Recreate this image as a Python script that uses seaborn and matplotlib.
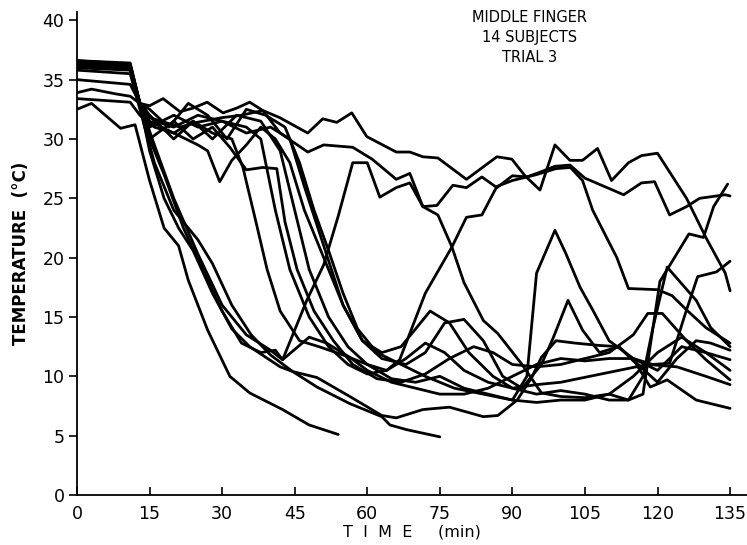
import matplotlib
matplotlib.use("Agg")
import matplotlib.pyplot as plt
import seaborn as sns
import pandas as pd

# ---- data: time (min) / temperature (deg C) breakpoints per subject ----
e1_t = [0, 3, 9, 12, 15, 18, 21, 23, 27, 31.6, 35.7, 42.5, 48, 54]
e1_v = [32.5, 33, 30.9, 31.2, 26.5, 22.5, 21, 18.1, 13.9, 10, 8.6, 7.2, 5.9, 5.1]

e2_t = [0, 11, 13, 15, 18, 21, 24, 28, 32, 35.7, 42, 44.6, 49.6, 56.4, 63, 64.7, 68.2, 75]
e2_v = [36.4, 36.1, 33, 29, 25, 22.5, 20.6, 17, 14, 12.5, 10.8, 10.4, 9.1, 7.7, 6.6, 5.9, 5.5, 4.9]

e3_t = [0, 11, 13, 16, 20, 25, 28, 32, 36, 40, 44.6, 49.6, 56.4, 63, 66, 71.5, 77, 84, 87, 91, 94,
        96, 99, 103, 108, 112, 115.5, 118.5, 122, 128, 135]
e3_v = [35.8, 35.5, 32.5, 28, 24, 21.5, 19.5, 16, 13.5, 11.8, 10.4, 9.9, 8.3, 6.7, 6.5, 7.2, 7.4, 6.6, 6.7, 8, 9.9,
        11.6, 13, 12.8, 12.6, 12.5, 11.1, 9.1, 9.7, 8, 7.3]

h3_t = [0, 11, 13, 16, 20, 25, 30, 35, 40, 42.5, 47.5, 51, 54, 57, 60, 62.6, 66, 68.8, 71.5, 74.6, 77.5,
        80, 84, 87, 92, 96, 100, 105, 110, 115, 120, 125, 130, 135]
h3_v = [36.0, 35.8, 33, 29.5, 25, 20.3, 16, 13.5, 12.2, 11.4, 16.4, 19.4, 23.5, 28, 28, 25.1, 25.9, 26.3, 24.3, 23.6, 20.9,
        17.9, 14.7, 13.6, 11, 8.6, 8.3, 8.2, 8.5, 10, 12, 13.3, 12, 10.5]

r19_t = [0, 11, 13, 15, 18, 22, 26, 30, 34, 38, 41, 42.5, 48, 51.6, 56.4, 60, 65, 70, 75, 80, 85, 90,
         95, 100, 105, 110, 115, 119, 122.5, 126, 128.3, 132.2, 135]
r19_v = [36.6, 36.3, 33, 30, 27, 22.5, 19, 15.5, 12.8, 12, 12.2, 11.4, 13.3, 12.8, 11.6, 10.5, 9.5, 9, 8.5, 8.5, 9, 10,
         11, 11.5, 11.3, 11.5, 11.5, 11, 11.1, 15.6, 18.4, 18.8, 19.7]

h1_t = [0, 3, 8, 11, 13, 15, 17.8, 21.3, 24, 26.9, 30.2, 33, 35.7, 38.4, 41.9, 47.7, 50.8, 53.7, 56.8, 59.9,
        66, 68.8, 71.5, 74.6, 80.5, 86.8, 89.9, 92.6, 95.7, 98.8, 101.9, 104.5, 107.6, 110.5, 114, 116.7,
        120, 126, 130, 134, 135]
h1_v = [33.9, 34.2, 33.8, 33.6, 33, 32.8, 33.4, 32.3, 32.6, 33.1, 32.2, 32.6, 33.1, 32.4, 31.8, 30.5, 31.7, 31.4, 32.2, 30.2,
        28.9, 28.9, 28.5, 28.4, 26.6, 28.5, 28.3, 26.9, 25.7, 29.5, 28.2, 28.2, 29.2, 26.5, 28, 28.6,
        28.8, 25, 21.7, 18.7, 17.2]

h2_t = [0, 11, 13, 15, 21.3, 24.8, 30, 34, 38.4, 42, 47.7, 51, 57, 61, 66, 68.8, 71.5, 74.4, 77.7, 80.5,
        83.7, 86.8, 90, 93, 95.7, 98.8, 101.9, 105, 113, 116.7, 119.4, 122.5, 126, 128.7, 134, 135]
h2_v = [35.0, 34.6, 33, 31.8, 31, 31.4, 31.8, 32, 32.4, 30.5, 28.9, 29.5, 29.3, 28.3, 26.6, 27.1, 24.3, 24.4, 26.1, 25.9,
        26.8, 25.9, 26.9, 26.8, 27.2, 27.7, 27.8, 26.7, 25.3, 26.3, 26.4, 23.6, 24.3, 25, 25.3, 25.2]

r1_t = [0, 11, 13, 16, 20, 25, 30, 35, 38, 41, 44, 48, 52, 56, 60, 64, 66.7, 72, 77.5, 80.5, 83.7, 86.8,
        90, 95, 99, 102, 104.5, 106.6, 111.6, 114, 120, 123, 126, 130, 135]
r1_v = [36.2, 36.0, 33, 31.5, 31, 32, 31.5, 31, 30, 24, 19, 15, 12.5, 11, 10.2, 10.5, 11.4, 17, 20.9, 23.4, 23.6, 26,
        26.5, 27, 27.5, 27.6, 26.5, 24, 20, 17.4, 17.3, 16.8, 15.6, 14.1, 12.8]

p1_t = [0, 11, 13, 15, 20, 24, 28, 33, 38, 42, 45, 48, 52, 56, 60, 65, 70, 75, 80, 85, 90, 93, 95,
        98.8, 101, 104, 106.6, 110, 115, 120, 125, 130, 135]
p1_v = [36.5, 36.2, 33, 32, 30, 31.5, 30, 32, 31.5, 29, 24, 19, 15, 12.5, 11, 9.8, 9.5, 10, 9, 8.5, 8, 10, 18.7,
        22.3, 20.4, 17.5, 15.6, 13, 11.5, 10.5, 12.5, 12, 11.4]

p16_t = [0, 11, 13, 15, 20, 25, 27, 29.5, 32, 35, 38, 41, 44, 47, 51, 55, 59, 63, 68, 72, 76, 80, 84,
         88, 92, 96, 98.5, 101.5, 104.5, 108, 112, 116, 120, 124, 128, 131, 135]
p16_v = [36.3, 36.0, 33, 31.5, 30.5, 29.5, 29, 26.4, 28.2, 29.5, 31, 30, 28, 24, 20, 16, 13, 11.5, 11, 12, 14.5, 14.8, 13,
         10, 9, 11, 13.3, 16.4, 13.9, 12, 12.5, 11, 9.5, 11.5, 13, 12.8, 12.2]

p19_t = [0, 11, 13, 15, 19, 23, 27, 31, 35, 39, 43, 46, 49, 52, 55, 58, 62, 67, 72, 78, 84, 90, 95,
         100, 105, 110, 114, 117, 119, 122, 125, 128, 131, 135]
p19_v = [36.1, 35.9, 33, 32.5, 31, 33, 32, 30, 32.5, 32, 31, 28, 24, 20.6, 17, 14, 12, 11, 10, 9, 8.5, 8, 7.8,
         8, 8, 8.5, 8, 10, 14, 19.2, 17.8, 16.4, 14.1, 12.5]

r26_t = [0, 11, 13, 15, 20, 25, 30, 35, 40, 44, 47, 51, 55, 59, 63, 67, 70, 73, 77, 81, 86, 90, 95,
         100, 105, 110, 114, 117, 120.5, 126.5, 129.5, 131.6, 134.5]
r26_v = [36.4, 36.2, 33, 31, 32, 31, 31.5, 30.5, 31, 30, 26, 21, 16, 13, 12, 12.5, 14, 15.5, 14.5, 12, 10, 9, 8.5,
         8.8, 8.5, 8, 8, 8.5, 18, 22, 21.7, 24.3, 26.2]

l97_t = [0, 11, 13, 15, 20, 24, 28, 31.6, 35, 38.4, 41.3, 43, 45.5, 49, 53, 57, 62, 67, 72, 77, 82, 86,
         90, 95, 100, 105, 110, 115, 118, 121, 126, 130, 135]
l97_v = [36.6, 36.4, 33, 30, 31.5, 30, 31, 29.3, 27.4, 27.6, 27.5, 23, 19, 15.5, 13, 11, 9.8, 9.5, 10.2, 11.5, 12.5, 12,
         11, 10.8, 11, 11.5, 12, 13.5, 15.3, 15.3, 13, 11.4, 9.7]

e5_t = [0, 11, 13, 16, 20, 24, 28, 32, 34.3, 37, 39.3, 42, 46, 50, 55, 60, 64, 68, 72, 76, 80, 85, 90,
        95, 100, 106, 112, 118, 124, 130, 135]
e5_v = [33.4, 33.1, 32, 31, 30.5, 31.5, 30.5, 30, 27.6, 23, 19, 15.5, 13, 12.5, 11.8, 11, 10.5, 11.5, 12.8, 12, 10.5, 9.5, 9,
        9.3, 9.5, 10, 10.5, 11, 10.8, 10, 9.3]

series = {
    "S1": (e1_t, e1_v), "S2": (e2_t, e2_v), "S3": (e3_t, e3_v), "S4": (h3_t, h3_v),
    "S5": (r19_t, r19_v), "S6": (h1_t, h1_v), "S7": (h2_t, h2_v), "S8": (r1_t, r1_v),
    "S9": (p1_t, p1_v), "S10": (p16_t, p16_v), "S11": (p19_t, p19_v), "S12": (r26_t, r26_v),
    "S13": (l97_t, l97_v), "S14": (e5_t, e5_v),
}

x_ticks = [0, 15, 30, 45, 60, 75, 90, 105, 120, 135]
y_ticks = [0, 5, 10, 15, 20, 25, 30, 35, 40]
title_lines = ["MIDDLE FINGER", "14 SUBJECTS", "TRIAL 3"]

rows = []
for name, (ts, vs) in series.items():
    for i, (t, v) in enumerate(zip(ts, vs)):
        rows.append({"subject": name, "order": i, "time": t, "temp": v})
df = pd.DataFrame(rows)

sns.set_style("ticks")
plt.rcParams["font.family"] = ["DejaVu Sans"]
plt.rcParams["text.color"] = "black"
plt.rcParams["axes.labelcolor"] = "black"
plt.rcParams["xtick.color"] = "black"
plt.rcParams["ytick.color"] = "black"

fig = plt.figure(figsize=(7.47, 5.45), dpi=100)
ax = fig.add_axes([77 / 747, 50 / 545, 670 / 747, 483 / 545])

sns.lineplot(data=df, x="time", y="temp", units="subject", estimator=None,
             sort=False, color="black", linewidth=2.0, ax=ax)

ax.set_xlim(0, 138.5)
ax.set_ylim(0, 40.7)
ax.set_xticks(x_ticks)
ax.set_yticks(y_ticks)
ax.set_xticklabels([str(v) for v in x_ticks], fontsize=12.5)
ax.set_yticklabels([str(v) for v in y_ticks], fontsize=12.5)
ax.tick_params(axis="x", direction="in", length=6, width=1.2, pad=7, colors="black")
ax.tick_params(axis="y", direction="out", length=6, width=1.2, pad=3, colors="black")
for side in ["top", "right"]:
    ax.spines[side].set_visible(False)
for side in ["left", "bottom"]:
    ax.spines[side].set_linewidth(1.3)
    ax.spines[side].set_color("black")

ax.set_xlabel("T  I  M  E     (min)", fontsize=11.5, labelpad=1, color="black")
ax.set_ylabel("TEMPERATURE  (°C)", fontsize=12, fontweight="bold", labelpad=9, color="black")

for i, line in enumerate(title_lines):
    fig.text(530 / 747, 1 - (18 + 19.5 * i) / 545, line, ha="center", va="center",
             fontsize=10.5, color="black")

fig.savefig("out.png", dpi=100, facecolor="white")
